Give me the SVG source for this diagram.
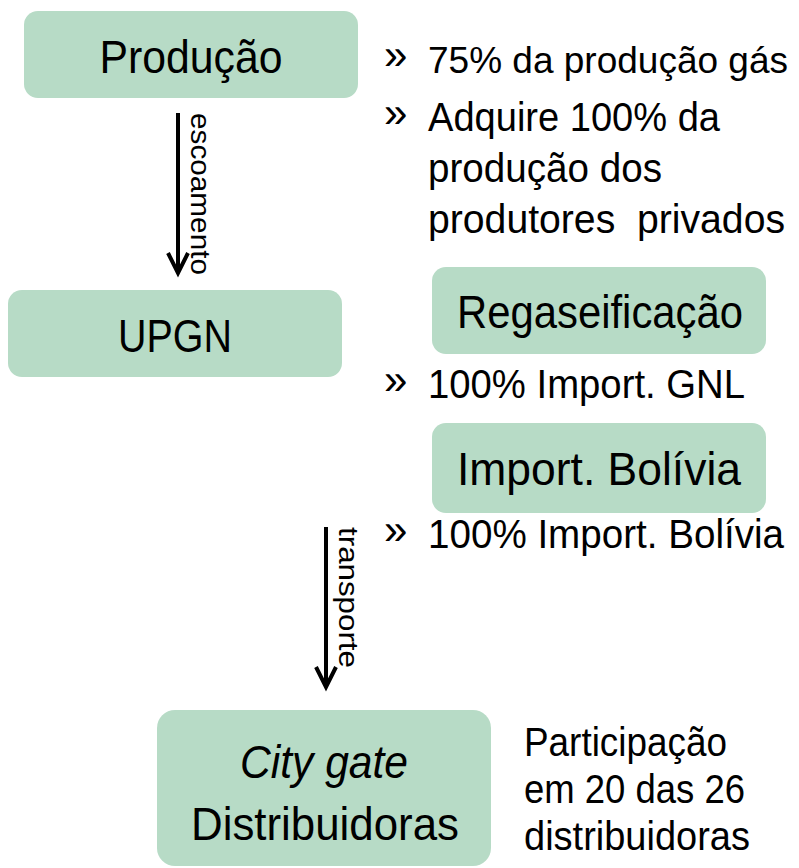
<svg xmlns="http://www.w3.org/2000/svg" width="799" height="868" viewBox="0 0 799 868">
<style>
.box{fill:#b7dbc6;}
.t{font-family:"Liberation Sans",Arial,sans-serif;fill:#000;}
.n{font-size:46px;text-anchor:middle;}
.b{font-size:40px;}
.q{font-size:42px;}
.v{font-size:27px;}
.arr{stroke:#000;stroke-width:4;fill:none;}
</style>
<rect width="799" height="868" fill="#fff"/>
<g id="producao">
<rect class="box" x="24" y="11" width="334" height="87" rx="14"/>
<text class="t n" x="191" y="73" textLength="183" lengthAdjust="spacingAndGlyphs">Produção</text>
</g>
<g id="upgn">
<rect class="box" x="8" y="290" width="334" height="87" rx="14"/>
<text class="t n" x="175" y="352" textLength="114" lengthAdjust="spacingAndGlyphs">UPGN</text>
</g>
<g id="regaseificacao">
<rect class="box" x="432" y="267" width="334" height="87" rx="14"/>
<text class="t n" x="600" y="328" textLength="286" lengthAdjust="spacingAndGlyphs">Regaseificação</text>
</g>
<g id="import-bolivia">
<rect class="box" x="432" y="423" width="334" height="90" rx="14"/>
<text class="t n" x="599" y="485" textLength="284" lengthAdjust="spacingAndGlyphs">Import. Bolívia</text>
</g>
<g id="city-gate">
<rect class="box" x="157" y="710" width="334" height="156" rx="18"/>
<text class="t n" x="324" y="778" font-style="italic" textLength="168" lengthAdjust="spacingAndGlyphs">City gate</text>
<text class="t n" x="325" y="840" textLength="268" lengthAdjust="spacingAndGlyphs">Distribuidoras</text>
</g>
<g id="notes">
<text class="t q" x="384" y="69">»</text>
<text class="t b" x="428" y="73" font-size="37" style="font-size:37px" textLength="360" lengthAdjust="spacingAndGlyphs">75% da produção gás</text>
<text class="t q" x="384" y="127">»</text>
<text class="t b" x="428" y="131" textLength="292" lengthAdjust="spacingAndGlyphs">Adquire 100% da</text>
<text class="t b" x="428" y="182" textLength="234" lengthAdjust="spacingAndGlyphs">produção dos</text>
<text class="t b" x="428" y="233" textLength="357" lengthAdjust="spacingAndGlyphs" xml:space="preserve">produtores  privados</text>
<text class="t q" x="384" y="394">»</text>
<text class="t b" x="428" y="398" textLength="317" lengthAdjust="spacingAndGlyphs">100% Import. GNL</text>
<text class="t q" x="384" y="544">»</text>
<text class="t b" x="428" y="548" textLength="356" lengthAdjust="spacingAndGlyphs">100% Import. Bolívia</text>
<text class="t b" x="524" y="756" textLength="203" lengthAdjust="spacingAndGlyphs">Participação</text>
<text class="t b" x="524" y="803" textLength="221" lengthAdjust="spacingAndGlyphs">em 20 das 26</text>
<text class="t b" x="524" y="850" textLength="226" lengthAdjust="spacingAndGlyphs">distribuidoras</text>
</g>
<g id="connectors">
<line class="arr" x1="178" y1="113" x2="178" y2="272"/>
<polyline class="arr" points="168,253 178,273 188,253"/>
<text class="t v" transform="translate(191,113) rotate(90)" textLength="162" lengthAdjust="spacingAndGlyphs">escoamento</text>
<line class="arr" x1="326" y1="527" x2="326" y2="686"/>
<polyline class="arr" points="316,667 326,687 336,667"/>
<text class="t v" transform="translate(339,527) rotate(90)" textLength="141" lengthAdjust="spacingAndGlyphs">transporte</text>
</g>
</svg>
